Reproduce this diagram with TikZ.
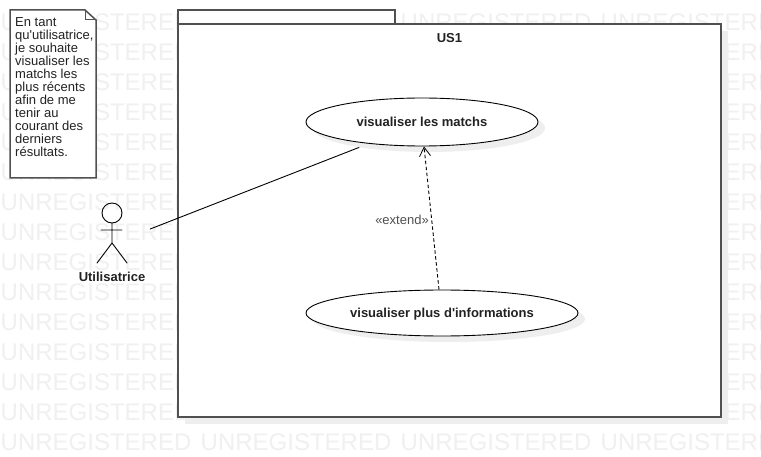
\documentclass[tikz,border=0pt]{standalone}
\usepackage{fontspec}
\setmainfont{Liberation Sans}[Ligatures=TeXOff]
\usetikzlibrary{shapes.geometric,arrows.meta,calc}
\definecolor{wm}{HTML}{F0F0F0}
\definecolor{shadowc}{HTML}{EEEEEE}
\definecolor{framec}{HTML}{505050}
\definecolor{inkc}{HTML}{222222}
\newcommand{\lowertext}[1]{\raisebox{-2pt}[8pt][3pt]{#1}}
\tikzset{
  wmark/.style={inner sep=0pt,anchor=west,text=wm,font=\fontsize{24}{24}\selectfont},
  shadowfill/.style={fill=shadowc,draw=none},
  frameline/.style={draw=framec,line width=1.5pt,fill=white},
  usecase/.style={ellipse,draw=black,line width=0.9pt,fill=white,inner sep=0pt,text=inkc,font=\fontsize{13}{13}\selectfont\bfseries},
  thinline/.style={draw=black,line width=0.9pt,line cap=round},
}
\begin{document}
\begin{tikzpicture}[x=1pt,y=-1pt]
\useasboundingbox (0,0) rectangle (761,457);
\fill[white] (0,0) rectangle (761,457);
\begin{scope}
\clip (0,0) rectangle (761,457);
\foreach \r in {0,...,14}{
  \foreach \c in {0,1,2,3}{
    \node[wmark] (wm\r c\c) at ({0.5+200*\c},{22+30*\r}) {UNREGISTERED};
  }
}
\end{scope}
% package
\path[shadowfill] (185,31) rectangle (728,424);
\path[frameline] (178,10) rectangle (395,24);
\path[frameline] (178,24) rectangle (721,417);
\node[inner sep=0pt,text=inkc,font=\fontsize{13}{13}\selectfont\bfseries] (title) at (449.5,38) {US1};
% note
\path[frameline] (10,10) -- (85,10) -- (96,20) -- (96,178) -- (10,178) -- cycle;
\draw[draw=framec,line width=1pt] (85,10) -- (85,20) -- (96,20);
\node[inner sep=0pt,anchor=north west,align=left,text=inkc,font=\fontsize{13}{12.96}\selectfont] (note) at (15,17.5) {En tant\\qu'utilisatrice,\\je souhaite\\visualiser les\\matchs les\\plus récents\\afin de me\\tenir au\\courant des\\derniers\\résultats.};
% use cases
\path[shadowfill] (429,128) ellipse [x radius=116,y radius=24];
\path[shadowfill] (449,319) ellipse [x radius=136,y radius=23];
\node[usecase,minimum width=232pt,minimum height=48pt] (e1) at (422,122) {\lowertext{visualiser les matchs}};
\node[usecase,minimum width=272pt,minimum height=46pt] (e2) at (442,313) {\lowertext{visualiser plus d'informations}};
% actor
\node[inner sep=0pt,minimum width=76pt,minimum height=1pt,draw=none] (actor) at (112,229) {};
\node[draw=black,line width=0.9pt,circle,inner sep=0pt,minimum size=20pt] (head) at (112,213) {};
\coordinate (hip) at (112,243);
\coordinate (armL) at (101,230);
\coordinate (armR) at (122,230);
\coordinate (legL) at (97,263);
\coordinate (legR) at (127,263);
\draw[thinline] (head.south) -- (hip) (armL) -- (armR) (legL) -- (hip) -- (legR);
\node[inner sep=0pt,text=inkc,font=\fontsize{13}{13}\selectfont\bfseries] (actorlabel) at (112,277) {Utilisatrice};
% connectors
\draw[thinline] (actor.east) -- ($(e1.south)+(-63,1)$);
\draw[draw=black,line width=0.9pt,dash pattern=on 3.5pt off 2.5pt,-{Straight Barb[length=9pt,width=11pt,line width=0.8pt]}] ($(e2.north)+(-3,0)$) -- ($(e1.south)+(2,0)$);
\node[inner sep=0pt,text=framec,font=\fontsize{13}{13}\selectfont] (ext) at (402,220) {«extend»};
\end{tikzpicture}
\end{document}
